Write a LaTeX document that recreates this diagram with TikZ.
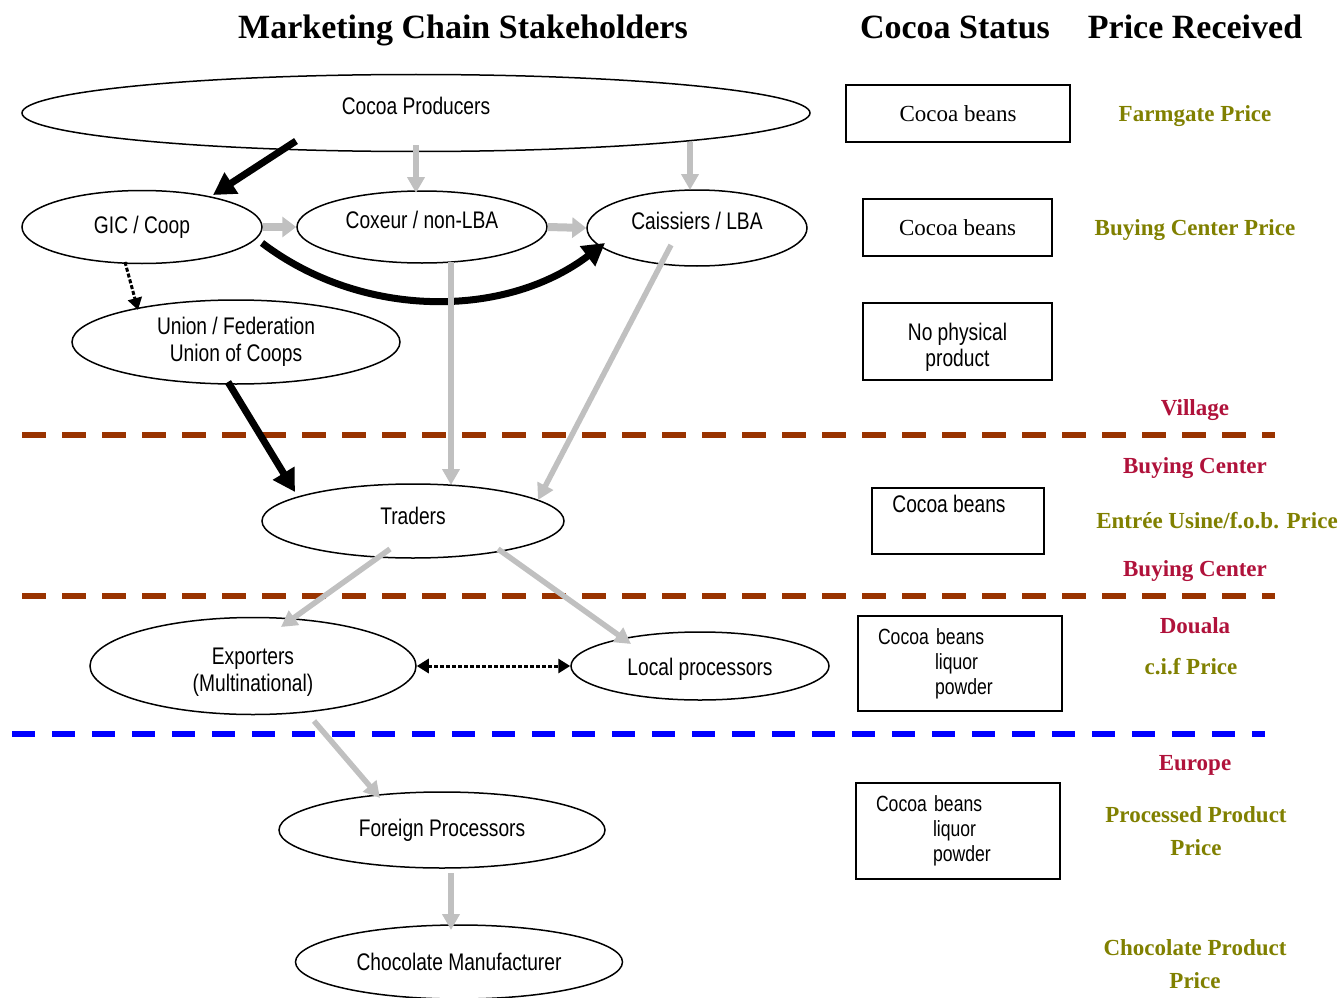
\documentclass[tikz,border=0pt]{standalone}
\usepackage{fontspec}
\setmainfont{Liberation Serif}
\newfontfamily\narrowsans[FakeStretch=0.8]{Liberation Sans}
\usepackage{tikz}
\usetikzlibrary{shapes.geometric, arrows.meta, calc}

\definecolor{arrowgray}{RGB}{192,192,192}
\definecolor{placered}{RGB}{176,18,59}
\definecolor{pricegreen}{RGB}{128,128,0}
\definecolor{zonebrown}{RGB}{153,51,0}

\begin{document}
\begin{tikzpicture}[x=1pt, y=-1pt,
    stake/.style={ellipse, draw, line width=1.5pt, inner sep=0pt, align=center, font=\narrowsans\fontsize{24}{27}\selectfont},
    statusbox/.style={rectangle, draw, line width=1.5pt, inner sep=0pt, align=center},
    heading/.style={anchor=base, font=\bfseries\fontsize{34}{40}\selectfont},
    pricelbl/.style={font=\bfseries\fontsize{23}{33}\selectfont, align=center},
    bigflow/.style={line width=7pt, -{Triangle[length=22pt, width=24pt]}},
    flow/.style={draw=arrowgray, line width=5.5pt, -{Triangle[length=16pt, width=17pt]}},
    shortflow/.style={draw=arrowgray, line width=8pt, -{Triangle[length=14pt, width=20pt]}},
    linkflow/.style={line width=3pt, dash pattern=on 4pt off 2pt, -{Triangle[length=12pt, width=14pt]}},
    zone/.style={line width=6pt, dash pattern=on 24pt off 16pt}]
    \useasboundingbox (0,0) rectangle (1339,998);

    \node[heading] (stakeholders) at (463,39) {Marketing Chain Stakeholders};
    \node[heading] (status) at (955,39) {Cocoa Status};
    \node[heading] (received) at (1195,39) {Price Received};

    % zone borders
    \draw[zone, zonebrown] (22,435) -- (1275,435);
    \draw[zone, zonebrown] (22,596) -- (1275,596);
    \draw[zone, blue, dash pattern=on 23pt off 17pt] (12,734) -- (1265,734);

    \node[stake, minimum width=788pt, minimum height=77pt, text height=12pt, text depth=9pt] (prod) at (416,113) {Cocoa Producers};
    \node[stake, minimum width=240pt, minimum height=73pt] (gic) at (142,227) {GIC / Coop};
    \node[stake, minimum width=250pt, minimum height=72pt, text height=12pt, text depth=9pt] (coxeur) at (422,227) {Coxeur / non-LBA};
    \node[stake, minimum width=220pt, minimum height=76pt, text height=12pt, text depth=9pt] (lba) at (697,228) {Caissiers / LBA};
    \node[stake, minimum width=328pt, minimum height=84pt] (union) at (236,342) {Union / Federation\\Union of Coops};
    \node[stake, minimum width=302pt, minimum height=74pt, text height=14pt, text depth=7pt] (traders) at (413,521) {Traders};
    \node[stake, minimum width=326pt, minimum height=97pt, text height=56pt] (export) at (253,666) {Exporters\\(Multinational)};
    \node[stake, minimum width=258pt, minimum height=68pt, text height=19pt, text depth=0pt] (local) at (700,666) {Local processors};
    \node[stake, minimum width=326pt, minimum height=76pt] (foreign) at (442,830) {Foreign Processors};
    \node[stake, minimum width=327pt, minimum height=74pt] (choc) at (459,962) {Chocolate Manufacturer};

    \draw[bigflow] ($(prod)+(-120,28)$) -- ($(gic)+(71,-32)$);
    \draw[flow] ($(prod)+(0,32)$) -- ($(coxeur)+(-6,-34)$);
    \draw[flow] ($(prod)+(274,29)$) -- ($(lba)+(-7,-38)$);
    \draw[shortflow] (gic.east) -- (coxeur.west);
    \draw[shortflow] (coxeur.east) -- (lba.west);
    \draw[bigflow] ($(gic)+(120,16)$) .. controls +(100,76) and +(-100,76) .. ($(lba)+(-92,15)$);
    \draw[linkflow] ($(gic)+(-17,35)$) -- ($(union)+(-98,-32)$);
    \draw[bigflow] ($(union)+(-8,40)$) -- ($(traders)+(-118,-29)$);
    \draw[flow] ($(coxeur)+(29,35)$) -- ($(traders)+(38,-36)$);
    \draw[flow] ($(lba)+(-26,17)$) -- ($(traders)+(125,-21)$);
    \draw[flow] ($(traders)+(-23,28)$) -- ($(export)+(28,-39)$);
    \draw[flow] ($(traders)+(85,28)$) -- ($(local)+(-69,-22)$);
    \draw[linkflow, {Triangle[length=12pt, width=14pt]}-{Triangle[length=12pt, width=14pt]}] (export.east) -- (local.west);
    \draw[flow] ($(export)+(61,55)$) -- ($(foreign)+(-62,-32)$);
    \draw[flow] ($(foreign)+(9,43)$) -- ($(choc)+(-8,-32)$);

    % cocoa status column
    \node[statusbox, minimum width=224pt, minimum height=57pt, font=\fontsize{23}{27}\selectfont] (beans1) at (958,113.5) {Cocoa beans};
    \node[statusbox, minimum width=189pt, minimum height=57pt, font=\fontsize{23}{27}\selectfont] (beans2) at (957.5,227.5) {Cocoa beans};
    \node[statusbox, minimum width=189pt, minimum height=77pt, text height=55pt, font=\narrowsans\fontsize{24}{26}\selectfont] (nophys) at (957.5,341.5) {No physical\\product};
    \node[statusbox, minimum width=172pt, minimum height=66pt, font=\narrowsans\fontsize{24}{27}\selectfont] (beans3) at (958,521) {Cocoa beans\hspace*{18pt}\\\strut};
    \node[statusbox, minimum width=204pt, minimum height=95pt, text width=164pt, inner xsep=20pt, align=left, font=\narrowsans\fontsize{22}{25}\selectfont] (products1) at (960,663.5) {Cocoa beans\\\hspace*{57pt}liquor\\\hspace*{57pt}powder};
    \node[statusbox, minimum width=204pt, minimum height=96pt, text width=164pt, inner xsep=20pt, align=left, font=\narrowsans\fontsize{22}{25}\selectfont] (products2) at (958,831) {Cocoa beans\\\hspace*{57pt}liquor\\\hspace*{57pt}powder};

    % price column
    \node[pricelbl, anchor=base, text=pricegreen] (farmgate) at (1195,121.5) {Farmgate Price};
    \node[pricelbl, anchor=base, text=pricegreen] (bcprice) at (1195,235.5) {Buying Center Price};
    \node[pricelbl, anchor=base, text=placered] (village) at (1195,415.5) {Village};
    \node[pricelbl, anchor=base, text=placered] (buying1) at (1195,473.5) {Buying Center};
    \node[pricelbl, anchor=base, text=pricegreen] (fob) at (1217,528.5) {Entrée Usine/f.o.b. Price};
    \node[pricelbl, anchor=base, text=placered] (buying2) at (1195,576.5) {Buying Center};
    \node[pricelbl, anchor=base, text=placered] (douala) at (1195,633.5) {Douala};
    \node[pricelbl, anchor=base, text=pricegreen] (cif) at (1191,674.5) {c.i.f Price};
    \node[pricelbl, anchor=base, text=placered] (europe) at (1195,770.5) {Europe};
    \node[pricelbl, text=pricegreen] (procprice) at (1196,831) {Processed Product\\Price};
    \node[pricelbl, text=pricegreen] (chocprice) at (1195,964) {Chocolate Product\\Price};
\end{tikzpicture}
\end{document}
